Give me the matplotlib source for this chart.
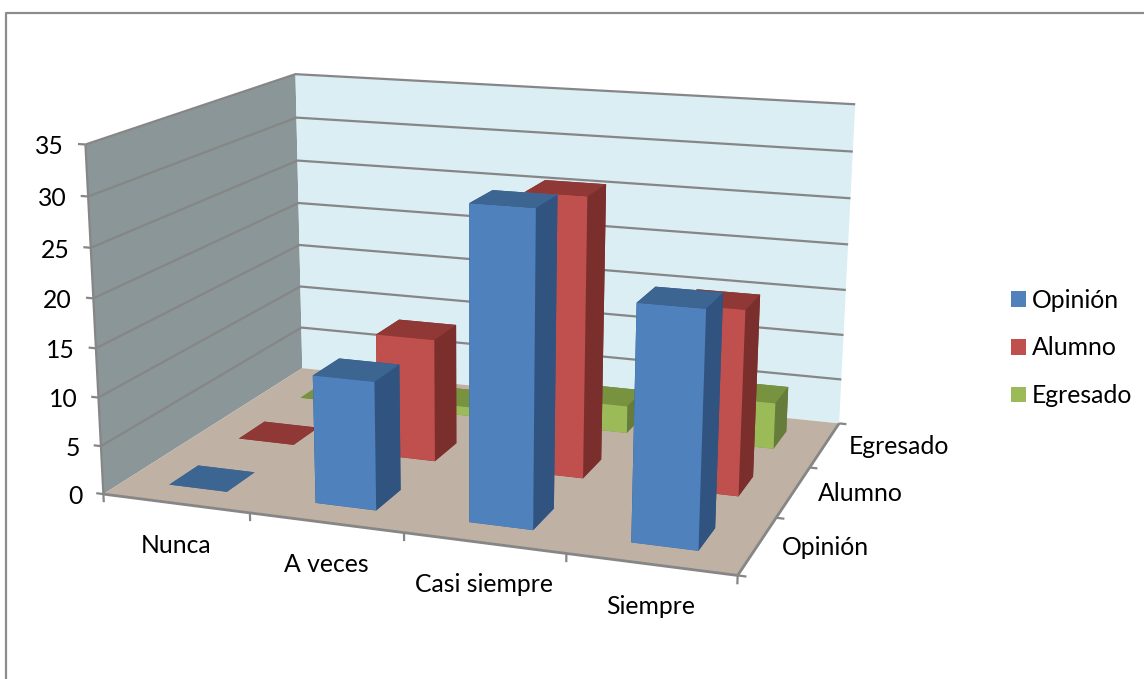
#!/usr/bin/env python
"""Clustered 3-D column chart (Opinión / Alumno / Egresado) with a fitted camera."""
import numpy as np
import matplotlib
matplotlib.use("Agg")
import matplotlib.pyplot as plt
from matplotlib.lines import Line2D
from matplotlib.patches import Patch
from mpl_toolkits.mplot3d.art3d import Line3DCollection, Poly3DCollection

WIDTH, HEIGHT = 1144, 679

categories = ["Nunca", "A veces", "Casi siempre", "Siempre"]
series = ["Opinión", "Alumno", "Egresado"]
z_ticks = [0, 5, 10, 15, 20, 25, 30, 35]

opinion = [0, 13, 31, 23]
alumno = [0, 13, 29, 19]
egresado = [0, 1, 3, 5]
values = [opinion, alumno, egresado]

front_colors = ["#4f81bd", "#c0504d", "#9bbb59"]
top_colors = ["#3c6592", "#8f3836", "#78933f"]
side_colors = ["#315380", "#7b2f2d", "#667c3a"]

AXIS_GRAY = "#868686"
BAR_WIDTH = 0.4
FONT_SIZE = 17.8

plt.rcParams["font.family"] = ["Lato", "DejaVu Sans"]

# camera calibration: box corners (category, series, value) -> figure pixels
box = np.array([[0, 0, 0], [4, 0, 0], [4, 3, 0], [0, 3, 0],
                [0, 0, 35], [0, 3, 35], [4, 3, 35]], dtype=float)
screen = np.array([[103.5, 494], [738, 575], [839, 424], [302, 368],
                   [85, 145], [296, 74], [855, 104]], dtype=float)
screen[:, 1] = HEIGHT - screen[:, 1]


def fit_camera(world, image):
    rows, rhs = [], []
    for (x, y, z), (u, v) in zip(world, image):
        rows.append([x, y, z, 1, 0, 0, 0, 0, -u * x, -u * y, -u * z])
        rows.append([0, 0, 0, 0, x, y, z, 1, -v * x, -v * y, -v * z])
        rhs += [u, v]
    p = np.linalg.lstsq(np.array(rows), np.array(rhs), rcond=None)[0]
    return np.append(p, 1.0).reshape(3, 4)


P = fit_camera(box, screen)
# depth row keeps far points sorted first in mplot3d
M = np.vstack([P[0], P[1], [0, 0, 0, -1.0], P[2]])


def to_px(x, y, z):
    u, v, w = P @ np.array([x, y, z, 1.0])
    return u / w, v / w


fig = plt.figure(figsize=(WIDTH / 100, HEIGHT / 100), dpi=100, facecolor="white")
ax = fig.add_axes([0, 0, 1, 1], projection="3d", computed_zorder=False)
ax.set_axis_off()
ax.get_proj = lambda: M
ax.apply_aspect = lambda position=None: None
ax.viewLim.intervalx = (0, WIDTH)
ax.viewLim.intervaly = (0, HEIGHT)


def add_lines(segments, lw=1.6, zorder=2):
    ax.add_collection3d(Line3DCollection(segments, colors=AXIS_GRAY,
                                         linewidths=lw, zorder=zorder))


# walls and floor
walls = [
    ([[0, 0, 0], [0, 3, 0], [0, 3, 35], [0, 0, 35]], "#8b9699"),
    ([[0, 3, 0], [4, 3, 0], [4, 3, 35], [0, 3, 35]], "#dbeef4"),
    ([[0, 0, 0], [4, 0, 0], [4, 3, 0], [0, 3, 0]], "#bfb1a4"),
]
for verts, color in walls:
    ax.add_collection3d(Poly3DCollection([verts], facecolors=color,
                                         edgecolors="none", zorder=1))

# gridlines run along the left wall and on across the back wall
for v in z_ticks:
    if v > 0:
        add_lines([[(0, 0, v), (0, 3, v), (4, 3, v)]])
    add_lines([[(-0.05, 0, v), (0, 0, v)]])
    ux, uy = to_px(-0.05, 0, v)
    ax.text2D(ux - 14, uy - 3, str(v), transform=ax.transData, ha="right",
              va="center", fontsize=FONT_SIZE, color="black")
add_lines([[(0, 0, 0), (0, 0, 35)]])

# axis edges on the floor, with ticks
add_lines([[(0, 0, 0), (4, 0, 0), (4, 3, 0)]], lw=2, zorder=3)
for i in range(len(categories) + 1):
    add_lines([[(i, 0, 0), (i, 0, -0.85)]], zorder=3)
for j in range(len(series) + 1):
    add_lines([[(4, j, 0), (4.05, j, 0)]], zorder=3)

for i, name in enumerate(categories):
    ux, uy = to_px(i + 0.5, 0, 0)
    ax.text2D(ux, uy - 42, name, transform=ax.transData, ha="center",
              va="center", fontsize=FONT_SIZE, color="black")
for j, name in enumerate(series):
    ux, uy = to_px(4, j + 0.5, 0)
    ax.text2D(ux + 24, uy - 2, name, transform=ax.transData, ha="left",
              va="center", fontsize=FONT_SIZE, color="black")

# columns: back row first, left to right inside a row
for j in reversed(range(len(series))):
    for i in range(len(categories)):
        h = values[j][i]
        x0 = i + 0.5 - BAR_WIDTH / 2
        y0 = j + 0.5 - BAR_WIDTH / 2
        # face order: bottom, top, front, back, left, right
        faces = [top_colors[j], top_colors[j], front_colors[j],
                 side_colors[j], side_colors[j], side_colors[j]]
        bars = ax.bar3d([x0], [y0], [0], BAR_WIDTH, BAR_WIDTH, h, color=faces,
                        shade=False, edgecolor="none", linewidth=0)
        bars.set_zorder(10 + (2 - j) * 10 + i)

ax.viewLim.intervalx = (0, WIDTH)
ax.viewLim.intervaly = (0, HEIGHT)

# chart frame, open on the right and bottom
fig.add_artist(Line2D([6 / WIDTH, 6 / WIDTH, 1], [0, 1 - 13 / HEIGHT, 1 - 13 / HEIGHT],
                      color="#8c8c8c", lw=1.6))

handles = [Patch(facecolor=c, edgecolor="none") for c in front_colors]
fig.legend(handles, series, loc="center left",
           bbox_to_anchor=(1011 / WIDTH, 1 - 348 / HEIGHT), frameon=False,
           fontsize=FONT_SIZE, handlelength=0.6, handleheight=0.6,
           handletextpad=0.25, labelspacing=1.0, borderpad=0, borderaxespad=0)

fig.savefig("out.png", dpi=100)
